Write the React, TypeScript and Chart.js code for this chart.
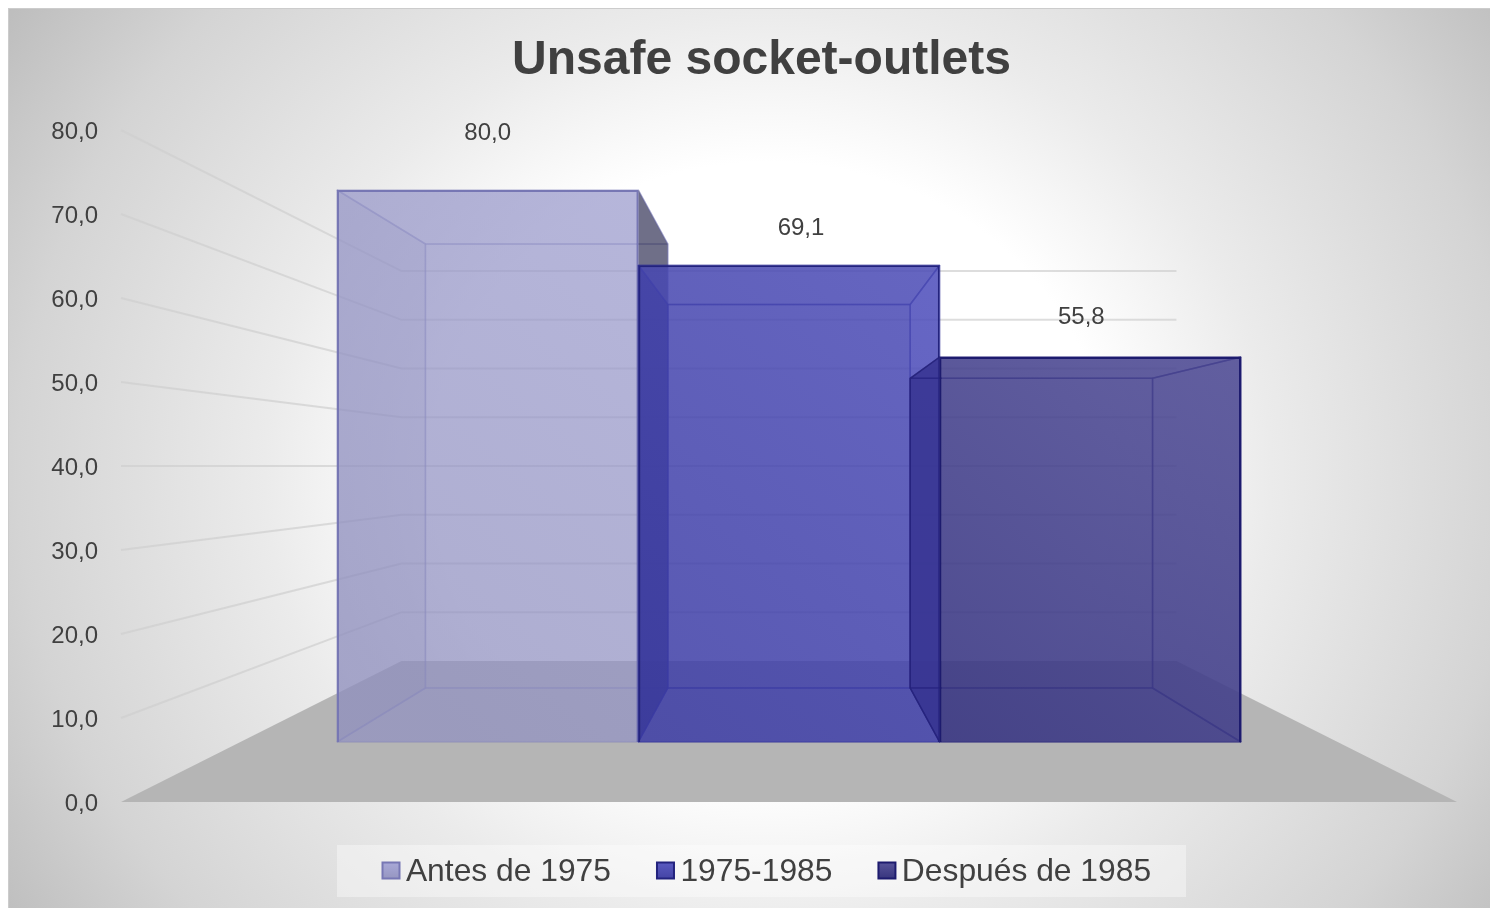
import React, { useEffect, useRef } from "react";
import { Chart, registerables } from "chart.js";

Chart.register(...registerables);

const chartTitle = "Unsafe socket-outlets";
const categories = ["Tomas inseguras"];
const seriesNames = ["Antes de 1975", "1975-1985", "Después de 1985"];
const seriesValues = [80.0, 69.1, 55.8];
const FONT = "'Liberation Sans', Arial, sans-serif";
const TEXT = "#404040";

// perspective depths relative to the axis plane (vanishing point = value 40, plot centre)
const S_FRONT = 0.8214;
const S_BACK = 0.6607;
const S_WALL = 0.58;

const borderColors = ["#7777b4", "#23237e", "#1d1b6e"];
const innerLine = ["rgba(120,120,185,.38)", "rgba(45,45,150,.6)", "rgba(35,32,120,.65)"];
const frontTop = ["rgba(165,165,215,.6)", "rgba(82,82,190,.72)", "rgba(80,76,150,.74)"];
const frontBottom = ["rgba(145,145,190,.62)", "rgba(58,58,160,.74)", "rgba(44,42,118,.86)"];
const backFill = ["rgba(150,150,200,.35)", "rgba(70,70,170,.5)", "rgba(60,58,135,.5)"];
const leftFill = ["rgba(135,135,185,.42)", "rgba(40,40,140,.68)", "rgba(45,40,140,.52)"];
const rightFill = ["rgba(45,45,75,.62)", "rgba(95,95,205,.55)", "rgba(60,58,135,.5)"];
const labelOffsets = [{ dx: 0, dy: -57 }, { dx: 12, dy: -37 }, { dx: -9, dy: -40 }];

const poly = (ctx: CanvasRenderingContext2D, pts: number[][], fill?: string, stroke?: string) => {
  ctx.beginPath();
  pts.forEach(([x, y], i) => (i ? ctx.lineTo(x, y) : ctx.moveTo(x, y)));
  ctx.closePath();
  if (fill) {
    ctx.fillStyle = fill;
    ctx.fill();
  }
  if (stroke) {
    ctx.strokeStyle = stroke;
    ctx.lineWidth = 1.5;
    ctx.lineJoin = "bevel";
    ctx.stroke();
  }
};

const drawBox = (chart: any, i: number) => {
  const { ctx, chartArea, scales } = chart;
  const bar = chart.getDatasetMeta(i).data[0];
  const cx = (chartArea.left + chartArea.right) / 2;
  const cy = scales.y.getPixelForValue(40);
  const k = S_BACK / S_FRONT;
  const l = bar.x - bar.width / 2;
  const r = bar.x + bar.width / 2;
  const t = bar.y;
  const b = bar.base;
  const B = (x: number, yy: number) => [cx + (x - cx) * k, cy + (yy - cy) * k];
  const fl = [l, t], fr = [r, t], gl = [l, b], gr = [r, b];
  const bl = B(l, t), br = B(r, t), cl = B(l, b), cr = B(r, b);
  const line = innerLine[i];
  poly(ctx, [bl, br, cr, cl], backFill[i], line);
  poly(ctx, [fl, fr, br, bl], backFill[i], line);
  poly(ctx, [gl, gr, cr, cl], backFill[i], line);
  poly(ctx, [fl, bl, cl, gl], leftFill[i], line);
  poly(ctx, [fr, br, cr, gr], rightFill[i], line);
};

const scene = {
  id: "scene",
  beforeLayout(chart: any) {
    const l = chart.legend;
    if (l && !l.__wrapped) {
      const fit = l.fit.bind(l);
      l.fit = () => {
        fit();
        l.height = 106;
      };
      l.__wrapped = true;
    }
  },
  afterLayout(chart: any) {
    const l = chart.legend;
    l.left = 328.5;
    l.right = 1490;
    l.top = 802.5;
    const t = chart.titleBlock;
    t.right = t.left + 1507;
  },
  beforeDraw(chart: any) {
    const { ctx, width, height } = chart;
    ctx.save();
    ctx.save();
    ctx.translate(760, 462);
    ctx.scale(1, 1 / 1.1);
    const g = ctx.createRadialGradient(0, 0, 0, 0, 0, 915);
    g.addColorStop(0, "#ffffff");
    g.addColorStop(0.37, "#ffffff");
    g.addColorStop(0.55, "#ebebeb");
    g.addColorStop(0.82, "#d4d4d4");
    g.addColorStop(1, "#bdbdbd");
    ctx.fillStyle = g;
    ctx.fillRect(-1000, -1100, 2000, 2200);
    ctx.restore();
    ctx.strokeStyle = "#cccccc";
    ctx.lineWidth = 2;
    ctx.beginPath();
    ctx.moveTo(0, height);
    ctx.lineTo(0, 0);
    ctx.lineTo(width, 0);
    ctx.stroke();
    ctx.fillStyle = "rgba(255,255,255,.38)";
    ctx.fillRect(329, 837, 849, 52);
    ctx.restore();
  },
  beforeDatasetsDraw(chart: any) {
    const { ctx, chartArea, scales } = chart;
    const y = scales.y;
    const cx = (chartArea.left + chartArea.right) / 2;
    const cy = y.getPixelForValue(40);
    const P = (x: number, v: number, s: number) => [cx + (x - cx) * s, cy + (y.getPixelForValue(v) - cy) * s];
    ctx.save();
    poly(ctx, [P(chartArea.left, 0, 1), P(chartArea.right, 0, 1), P(chartArea.right, 0, S_WALL), P(chartArea.left, 0, S_WALL)], "#b5b5b5");
    ctx.strokeStyle = "rgba(206,206,206,.7)";
    ctx.lineWidth = 2;
    y.ticks.forEach((t: any) => {
      if (t.value === 0) return;
      const a = P(chartArea.left, t.value, 1);
      const b = P(chartArea.left, t.value, S_WALL);
      const c = P(chartArea.right, t.value, S_WALL);
      ctx.beginPath();
      ctx.moveTo(a[0], a[1]);
      ctx.lineTo(b[0], b[1]);
      ctx.lineTo(c[0], c[1]);
      ctx.stroke();
    });
    // the boxes are painted from the first series to the last, each over the one before it
    chart.data.datasets.forEach((_: any, i: number) => {
      drawBox(chart, i);
      chart.getDatasetMeta(i).controller.draw();
    });
    ctx.restore();
    return false;
  },
  afterDraw(chart: any) {
    const { ctx } = chart;
    ctx.save();
    ctx.font = `24px ${FONT}`;
    ctx.fillStyle = TEXT;
    ctx.textAlign = "center";
    ctx.textBaseline = "middle";
    chart.data.datasets.forEach((d: any, i: number) => {
      const el = chart.getDatasetMeta(i).data[0];
      ctx.fillText(d.data[0].toFixed(1).replace(".", ","), el.x + labelOffsets[i].dx, el.y + labelOffsets[i].dy);
    });
    chart.legend.legendHitBoxes.forEach((h: any, i: number) => {
      const g = ctx.createLinearGradient(0, 854, 0, 871);
      g.addColorStop(0, frontTop[i].replace(/,\.[0-9]+\)/, ",.95)"));
      g.addColorStop(1, frontBottom[i].replace(/,\.[0-9]+\)/, ",.95)"));
      ctx.fillStyle = g;
      ctx.fillRect(h.left + 0.5, 854.5, 17, 16);
      ctx.strokeStyle = borderColors[i];
      ctx.lineWidth = 2;
      ctx.strokeRect(h.left + 0.5, 854.5, 17, 16);
    });
    ctx.restore();
  },
};

export default function App() {
  const ref = useRef<HTMLCanvasElement>(null);
  useEffect(() => {
    document.documentElement.style.overflow = "hidden";
    const chart = new Chart(ref.current as HTMLCanvasElement, {
      type: "bar",
      data: {
        labels: categories,
        datasets: seriesNames.map((label, i) => ({
          label,
          data: [seriesValues[i]],
          yAxisID: "yFront",
          barPercentage: 1,
          categoryPercentage: 904 / 1336,
          borderColor: borderColors[i],
          borderWidth: 2,
          backgroundColor: (c: any) => {
            const area = c.chart.chartArea;
            if (!area) return frontTop[i];
            const g = c.chart.ctx.createLinearGradient(1000, 150, 500, 760);
            g.addColorStop(0, frontTop[i]);
            g.addColorStop(1, frontBottom[i]);
            return g;
          },
        })),
      },
      options: {
        responsive: false,
        animation: false,
        maintainAspectRatio: false,
        layout: { padding: { left: 0, right: 41, top: 0, bottom: 0 } },
        scales: {
          x: { display: false },
          y: {
            position: "left",
            min: 0,
            max: 80,
            afterFit: (s: any) => {
              s.width = 113;
            },
            border: { display: false },
            grid: { display: false, drawTicks: false },
            ticks: {
              stepSize: 10,
              padding: 23,
              labelOffset: 2,
              color: TEXT,
              font: { family: FONT, size: 24 },
              callback: (v: any) => Number(v).toFixed(1).replace(".", ","),
            },
          },
          yFront: {
            display: false,
            min: 40 - 40 / S_FRONT,
            max: 40 + 40 / S_FRONT,
          },
        },
        plugins: {
          tooltip: { enabled: false },
          title: {
            display: true,
            text: chartTitle,
            color: TEXT,
            font: { family: FONT, size: 48, weight: "bold" },
            padding: { top: 24.2, bottom: 40.2 },
          },
          legend: {
            display: true,
            position: "bottom",
            align: "start",
            labels: {
              color: TEXT,
              font: { family: FONT, size: 31.8 },
              boxWidth: 8,
              boxHeight: 17,
              padding: 45.5,
              generateLabels: (chart: any) =>
                chart.data.datasets.map((d: any, i: number) => ({
                  text: d.label,
                  fillStyle: "transparent",
                  strokeStyle: "transparent",
                  lineWidth: 0,
                  datasetIndex: i,
                  fontColor: TEXT,
                })),
            },
          },
        },
      },
      plugins: [scene],
    } as any);
    return () => chart.destroy();
  }, []);
  return <canvas ref={ref} width={1490} height={900} style={{ display: "block", width: 1490, height: 900 }} />;
}
